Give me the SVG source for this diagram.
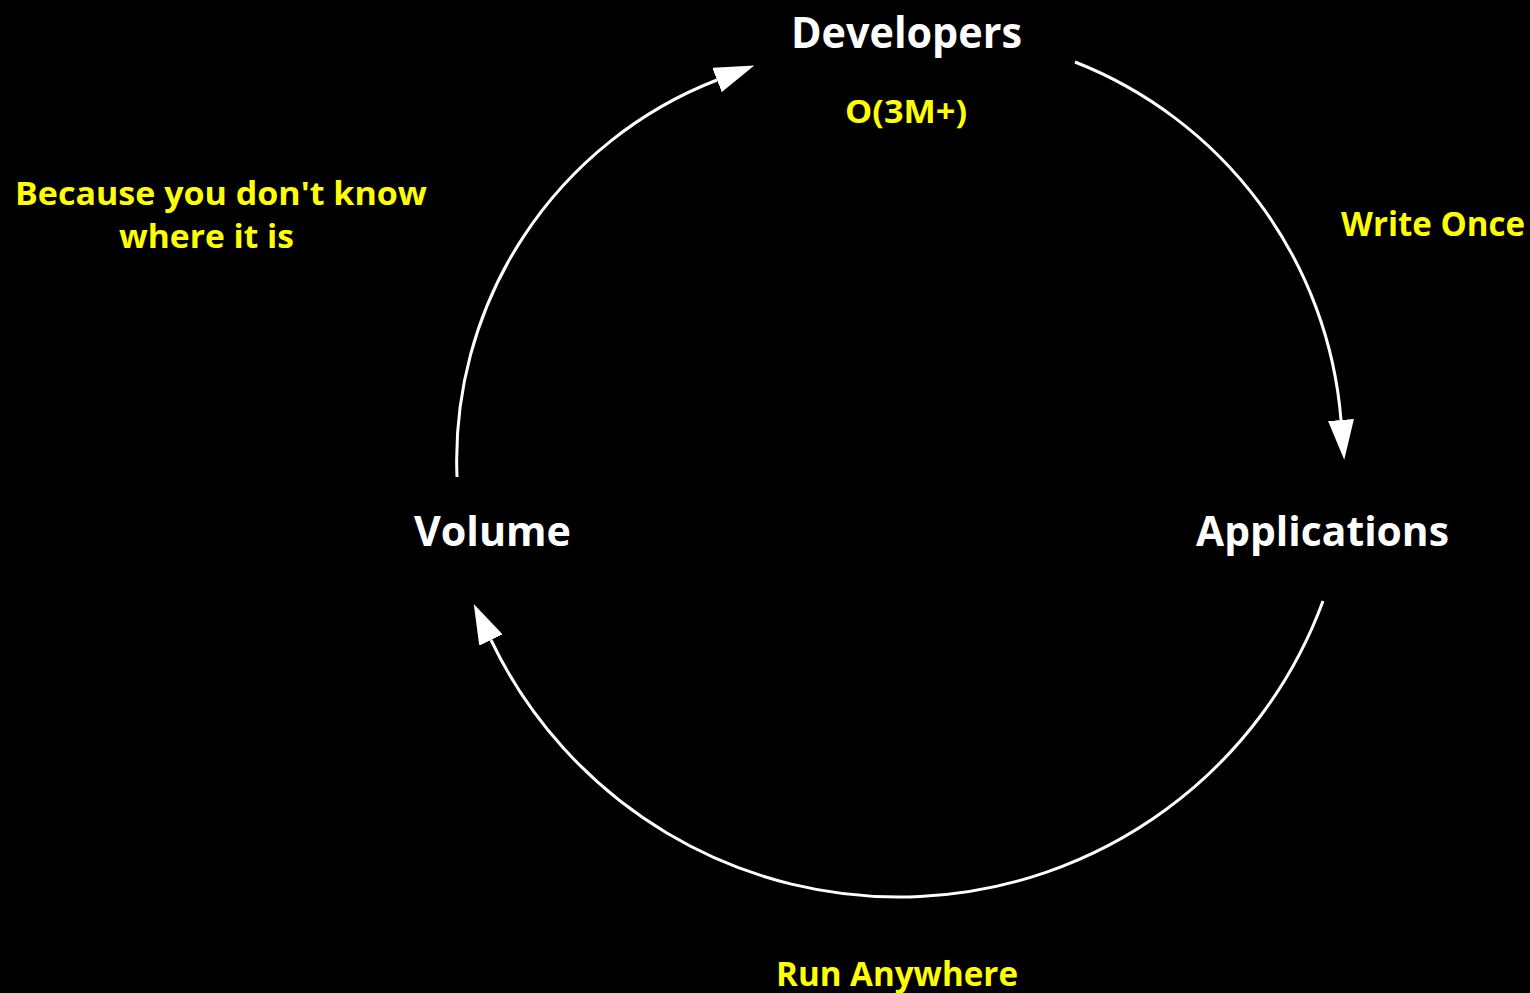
<svg xmlns="http://www.w3.org/2000/svg" width="1530" height="993" viewBox="0 0 1530 993">
<style>
.bg{fill:#000}
.node{font-family:"Open Sans","DejaVu Sans",sans-serif;font-weight:700;fill:#fff}
.lbl{font-family:"Open Sans","DejaVu Sans",sans-serif;font-weight:700;fill:#ffff00}
.arc{fill:none;stroke:#fff;stroke-width:3}
</style>
<defs>
<marker id="ah" markerUnits="userSpaceOnUse" markerWidth="40" markerHeight="26" refX="0" refY="13" orient="auto" viewBox="0 0 40 26">
<path d="M0,0 L40,13 L0,26 z" fill="#fff"/>
</marker>
</defs>
<rect class="bg" x="0" y="0" width="1530" height="993"/>
<g id="connectors">
<path class="arc" d="M1075,62 A421,421 0 0,1 1341,420" marker-end="url(#ah)"/>
<path class="arc" d="M1323,601 A452,452 0 0,1 491,640" marker-end="url(#ah)"/>
<path class="arc" d="M457,477 A408,408 0 0,1 717,80" marker-end="url(#ah)"/>
</g>
<g id="developers">
<text class="node" x="791" y="48" font-size="43" textLength="231" lengthAdjust="spacingAndGlyphs">Developers</text>
<text class="lbl" x="845" y="123" font-size="33" textLength="122" lengthAdjust="spacingAndGlyphs">O(3M+)</text>
</g>
<g id="applications">
<text class="node" x="1196" y="546" font-size="42" textLength="253" lengthAdjust="spacingAndGlyphs">Applications</text>
</g>
<g id="volume">
<text class="node" x="414" y="546" font-size="42" textLength="157" lengthAdjust="spacingAndGlyphs">Volume</text>
</g>
<g id="label-write-once">
<text class="lbl" x="1341" y="236" font-size="34" textLength="184" lengthAdjust="spacingAndGlyphs">Write Once</text>
</g>
<g id="label-run-anywhere">
<text class="lbl" x="776" y="986" font-size="34" textLength="242" lengthAdjust="spacingAndGlyphs">Run Anywhere</text>
</g>
<g id="label-because">
<text class="lbl" x="15" y="205" font-size="33" textLength="412" lengthAdjust="spacingAndGlyphs">Because you don't know</text>
<text class="lbl" x="119" y="248" font-size="33" textLength="175" lengthAdjust="spacingAndGlyphs">where it is</text>
</g>
</svg>
